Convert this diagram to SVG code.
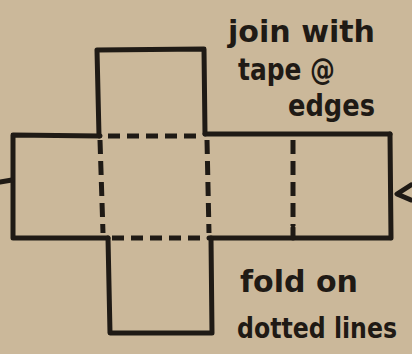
<svg xmlns="http://www.w3.org/2000/svg" width="412" height="354" viewBox="0 0 412 354">
<style>
.s{fill:none;stroke:#1f1a15;stroke-width:5;stroke-linecap:round;stroke-linejoin:round}
.d{fill:none;stroke:#1f1a15;stroke-width:5;stroke-dasharray:12 7;stroke-linecap:butt}
.t{font-family:"DejaVu Sans Condensed","DejaVu Sans",sans-serif;font-weight:bold;font-size:31px;fill:#1f1a15}
</style>
<rect width="412" height="354" fill="#cbb89a"/>
<g id="face-top"><path class="s" d="M99,136 L97,50 L204,49 L205,134"/></g>
<g id="face-left"><path class="s" d="M100,136 L13,135 L13,238 L108,238"/></g>
<g id="face-center"><path class="d" d="M108,136 L202,136"/><path class="d" d="M112,238 L205,238"/></g>
<g id="face-right1"><path class="s" d="M205,134 L390,134"/><path class="s" d="M209,238 L390,238"/></g>
<g id="face-right2"><path class="s" d="M390,134 L391,238"/></g>
<g id="face-bottom"><path class="s" d="M108,238 L110,333 L212,333 L211,238"/></g>
<g id="connectors">
<path class="d" d="M100,140 L103,233" style="stroke-dasharray:14 7"/>
<path class="d" d="M207,140 L209,233" style="stroke-dasharray:14 7"/>
<path class="d" d="M293,140 L293,226" style="stroke-dasharray:14 7"/>
<path class="s" d="M293,228 L293,238"/>
<path class="s" d="M0,182 L12,180"/>
<path class="s" d="M411,185 L397,194 L411,200"/>
</g>
<g id="label-join">
<text class="t" x="228" y="42" textLength="147" lengthAdjust="spacingAndGlyphs">join with</text>
<text class="t" x="238" y="80" textLength="97" lengthAdjust="spacingAndGlyphs">tape @</text>
<text class="t" x="288" y="116" textLength="87" lengthAdjust="spacingAndGlyphs">edges</text>
</g>
<g id="label-fold">
<text class="t" x="240" y="292" textLength="118" lengthAdjust="spacingAndGlyphs">fold on</text>
<text class="t" x="237" y="338" style="font-size:28px" textLength="160" lengthAdjust="spacingAndGlyphs">dotted lines</text>
</g>
</svg>
